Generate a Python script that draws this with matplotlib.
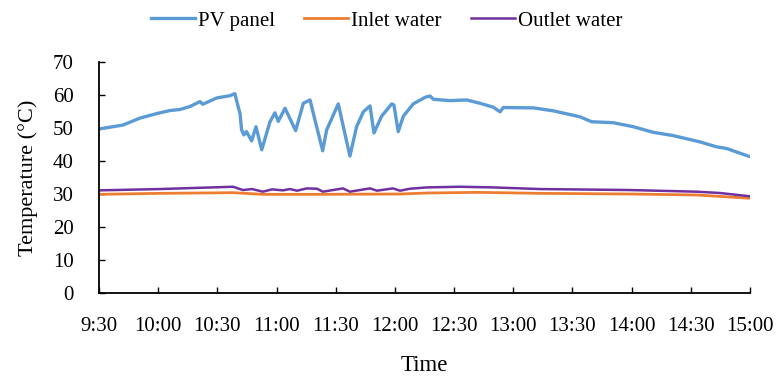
import numpy as np
import matplotlib.pyplot as plt

plt.rcParams['font.family'] = ['Liberation Serif', 'DejaVu Serif']

# minutes after 9:30 and measured temperatures (°C)
pv_min = [0, 3, 12.2, 20.8, 29.4, 36, 41, 46.1, 51.2, 52.6, 59.7, 66.4, 68.9,
          70.1, 71.5, 72.3, 73.5, 74.8, 77.4, 79.6, 82.5, 86.7, 89.2, 90.9,
          94.3, 99.7, 103.6, 107, 109.5, 113.4, 115.4, 121.3, 127.2, 130.6,
          134, 137.4, 139.4, 143.3, 148.4, 149.5, 151.7, 154.3, 159.3, 165.3,
          167.8, 169.5, 177.9, 186.4, 193.1, 199.9, 203.3, 205, 220.2, 230.3,
          243.8, 249.7, 260.7, 270.8, 280.9, 291.1, 304.6, 313, 318.1, 330]
pv_temp = [49.7, 50.0, 50.9, 53.0, 54.4, 55.3, 55.6, 56.5, 58.0, 57.2, 59.1,
           59.8, 60.4, 57.5, 54.4, 49.4, 47.9, 48.9, 46.1, 50.4, 43.4, 51.9,
           54.6, 52.0, 56.0, 49.2, 57.5, 58.5, 52.4, 43.1, 49.4, 57.3, 41.5,
           50.4, 54.9, 56.7, 48.5, 53.6, 57.3, 57.0, 48.9, 53.6, 57.3, 59.3,
           59.7, 58.7, 58.3, 58.5, 57.5, 56.3, 54.9, 56.2, 56.1, 55.2, 53.4,
           51.9, 51.6, 50.4, 48.7, 47.7, 45.8, 44.3, 43.8, 41.3]

inlet_min = [0, 31, 68, 83, 112, 152.6, 166, 191.6, 223.5, 269, 303, 330]
inlet_temp = [29.9, 30.2, 30.4, 29.9, 29.9, 30.0, 30.3, 30.5, 30.2, 30.0,
              29.7, 28.7]

outlet_min = [0, 30.9, 68, 73, 77.6, 83.1, 87.7, 93.2, 96.8, 100.4, 105.4,
              110.5, 113.5, 123.7, 127.2, 137.4, 140.9, 149, 152.6, 157.7,
              166.3, 183, 199.7, 223.5, 269.2, 303.1, 314.8, 330]
outlet_temp = [31.1, 31.5, 32.2, 31.2, 31.5, 30.7, 31.4, 31.1, 31.5, 31.0,
               31.7, 31.6, 30.7, 31.7, 30.7, 31.7, 31.0, 31.7, 31.0, 31.6,
               32.0, 32.2, 32.0, 31.5, 31.2, 30.7, 30.3, 29.3]

tick_labels = ['9:30', '10:00', '10:30', '11:00', '11:30', '12:00', '12:30',
               '13:00', '13:30', '14:00', '14:30', '15:00']

fig = plt.figure(figsize=(7.78, 3.79), dpi=100)
ax = fig.add_axes([0.1272, 0.2269, 0.8368, 0.6095])

ax.plot(pv_min, pv_temp, color='#5B9BD5', lw=2.4, label='PV panel')
ax.plot(inlet_min, inlet_temp, color='#ED7D31', lw=2.0, label='Inlet water')
ax.plot(outlet_min, outlet_temp, color='#7030A0', lw=1.8, label='Outlet water')

ax.set_xlim(0, 330)
ax.set_ylim(0, 70)
ax.set_xticks(np.arange(0, 331, 30))
ax.set_xticklabels(tick_labels)
ax.set_yticks(np.arange(0, 71, 10))

for s in ['top', 'right']:
    ax.spines[s].set_visible(False)
for s in ['left', 'bottom']:
    ax.spines[s].set_linewidth(1.3)

ax.tick_params(axis='both', direction='in', length=4.5, width=1.0,
               labelsize=15)
ax.tick_params(axis='y', pad=18)
ax.tick_params(axis='x', pad=17)

ax.set_ylabel('Temperature (°C)', fontsize=16, labelpad=11)
ax.set_xlabel('Time', fontsize=16.5, labelpad=14)

fig.legend(loc='upper center', bbox_to_anchor=(0.497, 1.02), ncol=3,
           frameon=False, fontsize=15, handlelength=2.1, columnspacing=1.4,
           handletextpad=0.15)

fig.savefig('out.png', dpi=100)
